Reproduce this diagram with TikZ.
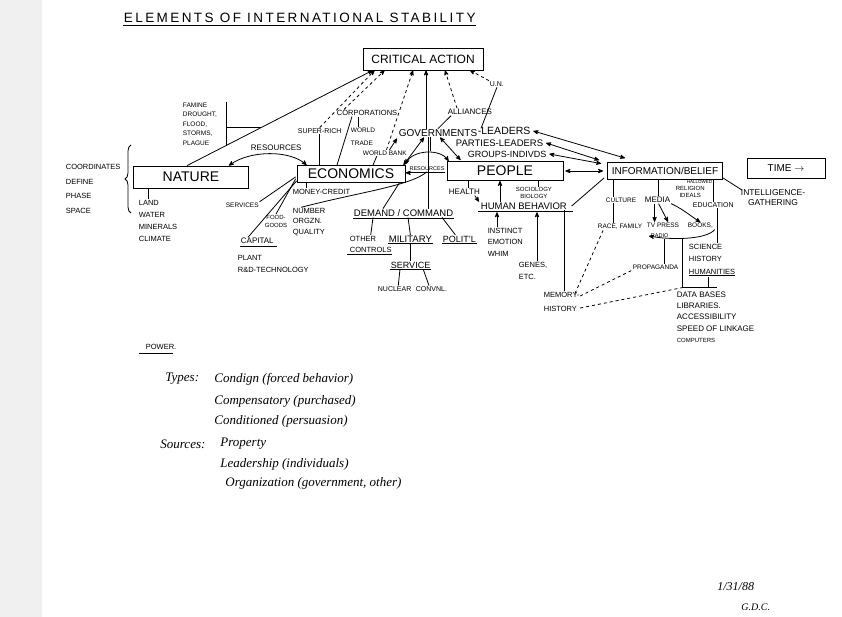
\documentclass[tikz,border=0pt]{standalone}
\usepackage{fontspec}
\setmainfont{Liberation Sans}
\newfontfamily\cursivefont{Liberation Serif}
\usetikzlibrary{arrows,positioning,decorations.pathreplacing}
\newcommand{\fsz}[1]{\fontsize{#1}{#1}\selectfont}
\tikzset{main box/.style={rectangle,draw,inner sep=0pt,font=\fsz{14}},
         note/.style={anchor=west,inner sep=0.5pt,align=left,font=\fsz{7.5}},
         hand/.style={anchor=west,inner sep=0pt,font=\cursivefont\itshape\fsz{13}}
}
\begin{document}
\begin{tikzpicture}[x=1pt,y=-1pt,>=stealth',line width=0.8pt]
\useasboundingbox (0,0) rectangle (842,617);
\fill[black!6] (0,0) rectangle (42,617);
% title
\node[note,font=\fsz{13.5}\addfontfeatures{LetterSpace=18}] (title) at (123,18) {ELEMENTS OF INTERNATIONAL STABILITY};
\draw ([yshift=-2]title.south west) -- ([yshift=-2]title.south east);
% boxes
\node[main box,minimum width=120,minimum height=22,font=\fsz{12}] (ca) at (423,59) {CRITICAL ACTION};
\node[main box,minimum width=115,minimum height=22] (nature) at (191,177) {NATURE};
\node[main box,minimum width=108,minimum height=17] (econ) at (351,174) {ECONOMICS};
\node[main box,minimum width=116,minimum height=19] (people) at (505,171) {PEOPLE};
\node[main box,minimum width=115,minimum height=17,font=\fsz{10}] (info) at (665,171) {INFORMATION/BELIEF};
\node[main box,minimum width=78,minimum height=20,font=\fsz{10}] (time) at (786,168) {TIME $\rightarrow$};
% nature side
\node[note,font=\fontsize{6.5}{9.5}\selectfont] (famine) at (182,124) {FAMINE\\DROUGHT,\\FLOOD,\\STORMS,\\PLAGUE};
\draw[->] ([xshift=-4]nature.north) -- coordinate[pos=0.4] (fj) ([xshift=10]ca.south west);
\draw ([xshift=9]famine.north east) -- ([xshift=9]famine.south east);
\draw ([xshift=9]famine.east |- fj) -- (fj);
\draw [decorate,decoration={brace,amplitude=6pt}] (131,213) -- (131,145);
\node[note,font=\fontsize{7.5}{14.5}\selectfont] (coord) at (65,189) {COORDINATES\\DEFINE\\PHASE\\SPACE};
\node[note,font=\fontsize{7.5}{12}\selectfont] (land) at (138,221) {LAND\\WATER\\MINERALS\\CLIMATE};
\draw ([xshift=-43]nature.south) -- ([xshift=-43]nature.south |- land.north);
\node[note,font=\fsz{8}] (resN) at (250,148) {RESOURCES};
\draw[<->] ([xshift=-20]nature.north east) .. controls (250,150) and (290,150) .. ([xshift=10]econ.north west);
% above economics
\node[note,font=\fsz{7}] (supr) at (297,131) {SUPER-RICH};
\node[note] (corp) at (336,113) {CORPORATIONS};
\node[note,font=\fontsize{6.5}{13}\selectfont] (wtrade) at (350,137) {WORLD\\TRADE};
\node[note,font=\fsz{6.5}] (wbank) at (362,153) {WORLD BANK};
\node[note,font=\fsz{10}] (govt) at (398,133) {GOVERNMENTS};
\node[note,font=\fsz{10.5}] (leaders) at (477,131) {-LEADERS};
\node[note,font=\fsz{8}] (alliances) at (447,112) {ALLIANCES};
\node[note,font=\fsz{7}] (un) at (489,84) {U.N.};
\node[note,font=\fsz{9.5}] (parties) at (455,143) {PARTIES-LEADERS};
\node[note,font=\fsz{9}] (groups) at (467,154) {GROUPS-INDIVDS};
\draw[dashed,->] (supr.north) -- ([xshift=12]ca.south west);
\draw[dashed,->] ([xshift=8]corp.north west) -- ([xshift=22]ca.south west);
\draw[dashed,->] ([xshift=-21]wbank.north east) -- ([xshift=-10]ca.south);
\draw[->] ([xshift=-18]wbank.north east) -- ([xshift=-1,yshift=-1]govt.south west);
\draw[->] ([xshift=-12]govt.north) -- ([xshift=-12]govt.north |- ca.south);
\draw[dashed,->] ([xshift=10]alliances.north west) -- ([xshift=22]ca.south);
\draw[dashed,->] (un.north west) -- ([xshift=47]ca.south);
\draw (un.south) -- ([xshift=4,yshift=-2]leaders.north west);
\draw ([xshift=4]alliances.south west) -- ([xshift=40]govt.north west);
\draw (supr.south) -- (supr.south |- econ.north);
\draw ([xshift=16]corp.south west) -- ([xshift=-14]econ.north);
\draw ([xshift=22]corp.south west) -- ([xshift=22]corp.south west |- wtrade.north);
\draw ([xshift=22]econ.north) -- ([xshift=-8]wbank.south);
\draw[<->] ([xshift=-2]econ.north east) -- ([xshift=-14]govt.south);
\draw[<->] ([xshift=2]govt.south) -- ([xshift=14,yshift=1]people.north west);
\node[font=\fsz{5.5},inner sep=0.5pt] (resE) at (427,169) {RESOURCES};
\draw[<->] ([yshift=1]econ.north east) .. controls (412,150) and (440,148) .. ([xshift=2]people.north west);
\draw[->] ([yshift=-1]resE.south east) -- ([yshift=-1,xshift=-3]resE.south west);
% below economics
\node[note,font=\fsz{6.5}] (services) at (225,205) {SERVICES};
\node[note,font=\fontsize{6}{8}\selectfont,align=center] (food) at (264,221) {FOOD-\\GOODS};
\node[note,font=\fsz{8}] (capital) at (240,241) {CAPITAL};
\draw ([yshift=-2]capital.south west) -- ([yshift=-2,xshift=2]capital.south east);
\node[note,font=\fontsize{7.5}{12}\selectfont] (plant) at (237,264) {PLANT\\R\&D-TECHNOLOGY};
\draw (services.north east) -- ([xshift=-1,yshift=6]econ.south west);
\draw (food.north) -- ([xshift=-1,yshift=4]econ.south west);
\draw ([xshift=8]capital.north west) -- ([yshift=2]econ.south west);
\node[note] (money) at (292,192) {MONEY-CREDIT};
\draw ([xshift=10]econ.south west) -- ([xshift=10]econ.south west |- money.north);
\node[note,font=\fontsize{7.5}{10.5}\selectfont] (number) at (292,222) {NUMBER\\ORGZN.\\QUALITY};
\draw ([xshift=-8]number.north) .. controls (360,192) and (410,186) .. (resE.south);
\node[note,font=\fsz{9.5}] (demand) at (353,213) {DEMAND / COMMAND};
\draw ([yshift=-1]demand.south west) -- ([yshift=-1]demand.south east);
\draw[line width=0.6pt] ([xshift=-10]govt.south) -- ([xshift=-10]govt.south |- demand.north);
\draw[line width=0.6pt] ([xshift=-7.5]govt.south) -- ([xshift=-7.5,yshift=-14]govt.south);
\draw ([xshift=-6]econ.south east) -- ([xshift=30]demand.north west);
\node[note,font=\fontsize{7.5}{11}\selectfont] (other) at (349,244) {OTHER\\CONTROLS};
\draw ([xshift=-2,yshift=-1]other.south west) -- ([yshift=-1]other.south east);
\node[note,font=\fsz{9.5}] (military) at (388,239) {MILITARY};
\draw (military.south west) -- (military.south east);
\node[note,font=\fsz{9}] (polit) at (442,239) {POLIT'L};
\draw (polit.south west) -- (polit.south east);
\draw ([xshift=20]demand.south west) -- (other.north);
\draw ([xshift=55]demand.south west) -- (military.north);
\draw ([xshift=-12]demand.south east) -- ([xshift=-4]polit.north);
\node[note,font=\fsz{9}] (service) at (390,265) {SERVICE};
\draw (service.south west) -- (service.south east);
\draw (military.south) -- (service.north);
\node[note,font=\fsz{7}] (nuclear) at (377,289) {NUCLEAR};
\node[note,font=\fsz{7}] (convnl) at (415,289) {CONVNL.};
\draw ([xshift=10]service.south west) -- ([xshift=-14]nuclear.north east);
\draw ([xshift=-8]service.south east) -- ([xshift=14]convnl.north west);
% people side
\node[note,font=\fsz{8}] (health) at (448,192) {HEALTH};
\draw ([xshift=-37]people.south) -- ([xshift=-37]people.south |- health.north);
\node[note,font=\fsz{9.5}] (hb) at (480,206) {HUMAN BEHAVIOR};
\draw ([xshift=-2,yshift=-1]hb.south west) -- ([xshift=5,yshift=-1]hb.south east);
\draw[->] ([xshift=-6]health.south east) -- ([xshift=-1]hb.north west);
\draw[->] ([xshift=20]hb.north west) -- ([xshift=20]hb.north west |- people.south);
\node[note,font=\fontsize{6}{6.5}\selectfont,align=center] (socio) at (515,193) {SOCIOLOGY\\BIOLOGY};
\draw ([xshift=33]people.south) -- ([xshift=33]people.south |- socio.north);
\node[note,font=\fontsize{7.5}{11.5}\selectfont] (instinct) at (487,242) {INSTINCT\\EMOTION\\WHIM};
\draw[->] ([xshift=10]instinct.north west) -- ([xshift=10,yshift=-2]instinct.north west |- hb.south);
\node[note,font=\fontsize{7.5}{12}\selectfont] (genes) at (518,271) {GENES,\\ETC.};
\draw[->] ([xshift=19]genes.north west) -- ([xshift=19,yshift=-2]genes.north west |- hb.south);
\node[note,font=\fontsize{7.5}{14}\selectfont] (memory) at (543,302) {MEMORY-\\HISTORY};
\draw ([xshift=-3]hb.south east) -- ([xshift=-3]hb.south east |- memory.north);
\draw ([xshift=4]hb.east) -- ([xshift=-3,yshift=2]info.south west);
% links to information
\draw[<->] ([xshift=2]leaders.east) -- ([xshift=-40,yshift=4]info.north);
\draw[<->] ([xshift=2]parties.east) -- ([xshift=-8,yshift=2]info.north west);
\draw[<->] ([xshift=2]groups.east) -- ([xshift=-6,yshift=-1.5]info.north west);
\draw[<->] ([xshift=2]people.east) -- ([xshift=-4]info.west);
% under information
\node[note,font=\fsz{6.5}] (culture) at (605,200) {CULTURE};
\node[note,font=\fsz{8}] (media) at (644,200) {MEDIA};
\draw ([xshift=-52]info.south) -- ([xshift=-52]info.south |- culture.north);
\draw ([xshift=-7]info.south) -- ([xshift=-7]info.south |- media.north);
\node[note,font=\fontsize{6}{7}\selectfont,align=center] (religion) at (675,192) {RELIGION\\IDEALS};
\node[note,font=\fsz{4.5}] (hallowed) at (686,182) {HALLOWED};
\node[note,font=\fsz{7}] (education) at (692,205) {EDUCATION};
\draw ([xshift=48]info.south) -- ([xshift=48]info.south |- education.north);
\node[note,font=\fsz{6.5}] (race) at (597,227) {RACE, FAMILY};
\draw ([xshift=-52]info.south |- culture.south) -- ([xshift=-52]info.south |- race.north);
\node[note,font=\fsz{6.5}] (tv) at (646,225) {TV PRESS};
\node[note,font=\fsz{6.5}] (books) at (687,226) {BOOKS,};
\node[note,font=\fsz{5.5}] (radio) at (650,236) {RADIO};
\draw[->] ([xshift=-3]media.south) -- ([xshift=-3]media.south |- tv.north);
\draw[->] ([xshift=1]media.south) -- ([xshift=22]tv.north west);
\draw[->] (media.south east) .. controls (680,208) .. (books.north);
\draw[->] ([xshift=1]books.south east) .. controls (706,240) and (670,240) .. ([xshift=-1]radio.west);
\node[note,font=\fsz{6.5}] (propaganda) at (632,267) {PROPAGANDA};
\draw ([xshift=9]propaganda.north) -- ([xshift=9]propaganda.north |- radio.south);
\node[note,font=\fontsize{7.5}{12.5}\selectfont] (science) at (688,260) {SCIENCE\\HISTORY\\\underline{HUMANITIES}};
\draw ([xshift=25]education.south west) -- ([xshift=29]science.north west);
\node[note,font=\fontsize{8}{11.3}\selectfont] (data) at (676,317) {DATA BASES\\LIBRARIES.\\ACCESSIBILITY\\SPEED OF LINKAGE\\{\fsz{6}COMPUTERS}};
\draw ([xshift=6,yshift=3]data.north west) -- ([xshift=41,yshift=3]data.north west);
\draw ([xshift=32,yshift=3]data.north west) -- ([xshift=32]data.north west |- science.south);
\draw ([xshift=6,yshift=3]data.north west) -- ([xshift=6]data.north west |- radio.south);
\node[note,font=\fontsize{8.5}{10}\selectfont,align=center] (intel) at (740,198) {INTELLIGENCE-\\GATHERING};
\draw ([yshift=2]info.south east) -- ([xshift=2,yshift=-1]intel.north west);
\draw[dashed] ([xshift=32,yshift=-2]memory.north west) -- ([xshift=6]race.south west);
\draw[dashed] ([yshift=6]memory.east) -- (propaganda.south west);
\draw[dashed] ([yshift=-6]memory.east) -- ([xshift=6,yshift=3]data.north west);
% power
\node[note] (power) at (145,347) {POWER.};
\draw ([xshift=-6,yshift=-3]power.south west) -- ([xshift=-4,yshift=-3]power.south east);
\node[hand] (types) at (165,379) {Types:};
\node[hand] (condign) at (214,379) {Condign (forced behavior)};
\node[hand] (compens) at (214,401) {Compensatory (purchased)};
\node[hand] (condit) at (214,421) {Conditioned (persuasion)};
\node[hand] (sources) at (160,444) {Sources:};
\node[hand] (property) at (220,444) {Property};
\node[hand] (leadership) at (220,464) {Leadership (individuals)};
\node[hand] (organiz) at (225,483) {Organization (government, other)};
\node[hand,font=\cursivefont\itshape\fsz{12}] (date) at (717,587) {1/31/88};
\node[hand,font=\cursivefont\itshape\fsz{10}] (init) at (741,607) {G.D.C.};
\end{tikzpicture}
\end{document}
